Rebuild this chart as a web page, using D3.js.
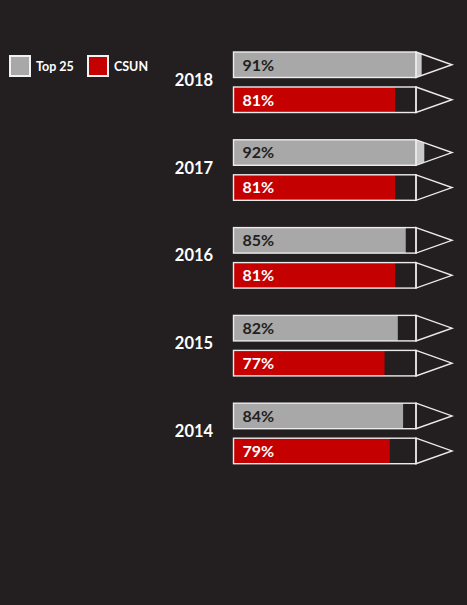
<!DOCTYPE html>
<html>
<head>
<meta charset="utf-8">
<script src="https://cdn.jsdelivr.net/npm/d3@7"></script>
<style>
  html, body { margin: 0; padding: 0; background: #231f20; }
  svg { display: block; }
</style>
</head>
<body>
<div id="chart"></div>
<script>
// data
var years = ['2018', '2017', '2016', '2015', '2014'];
var top25 = [91, 92, 85, 82, 84];
var csun = [81, 81, 81, 77, 79];
var seriesNames = ['Top 25', 'CSUN'];

var W = 467, H = 605;
var bg = '#231f20', grey = '#a8a8a8', greyLight = '#c9c9c9', red = '#c40000';
var font = 'Lato, "Open Sans", sans-serif';

var svg = d3.select('#chart').append('svg')
    .attr('width', W).attr('height', H);

svg.append('rect').attr('width', W).attr('height', H).attr('fill', bg);

// pencil geometry
var barX = 233.5, barW = 182.5, tipLen = 36, barH = 25.5, pairGap = 35;

var y = d3.scaleBand().domain(years).range([52, 491]).paddingInner(0);
// fill length, hand-drawn original is not zero based
var x = d3.scaleLinear().domain([20, 100]).range([0, 212]);

var rows = [];
years.forEach(function (yr, i) {
    rows.push({ year: yr, s: 0, v: top25[i] });
    rows.push({ year: yr, s: 1, v: csun[i] });
});

var defs = svg.append('defs');

var g = svg.selectAll('.pencil')
    .data(rows)
    .enter().append('g')
    .attr('class', 'pencil')
    .attr('transform', d => 'translate(' + barX + ',' + (y(d.year) + d.s * pairGap) + ')');

function tipPath() {
    return 'M' + barW + ',0 L' + (barW + tipLen) + ',' + barH / 2 + ' L' + barW + ',' + barH + 'Z';
}

g.each(function (d, i) {
    defs.append('clipPath').attr('id', 'tip' + i)
        .append('path').attr('d', tipPath());
});

// main fill
g.append('rect')
    .attr('width', d => Math.min(x(d.v), barW))
    .attr('height', barH)
    .attr('fill', d => d.s ? red : grey);

// part that runs into the tip
g.filter(d => x(d.v) > barW)
    .append('rect')
    .attr('clip-path', d => 'url(#tip' + rows.indexOf(d) + ')')
    .attr('x', barW)
    .attr('width', d => x(d.v) - barW)
    .attr('height', barH)
    .attr('fill', d => d.s ? red : greyLight);

g.append('rect')
    .attr('width', barW).attr('height', barH)
    .attr('fill', 'none').attr('stroke', '#ececec').attr('stroke-width', 1.4);

g.append('path')
    .attr('d', tipPath())
    .attr('fill', 'none').attr('stroke', '#ececec').attr('stroke-width', 1.4)
    .attr('stroke-linejoin', 'miter');

g.append('text')
    .attr('x', 9)
    .attr('y', barH / 2)
    .attr('dy', '0.36em')
    .attr('font-family', font).attr('font-weight', 700).attr('font-size', 16)
    .attr('fill', d => d.s ? '#ffffff' : bg)
    .text(d => d.v + '%');

// year labels
svg.selectAll('.year')
    .data(years)
    .enter().append('text')
    .attr('class', 'year')
    .attr('x', 194)
    .attr('y', d => y(d) + (barH + pairGap) / 2 + 3.5)
    .attr('text-anchor', 'middle')
    .attr('font-family', font).attr('font-weight', 700).attr('font-size', 16.5)
    .attr('fill', '#ffffff')
    .text(d => d);

// legend
var leg = svg.selectAll('.leg')
    .data(seriesNames)
    .enter().append('g')
    .attr('class', 'leg')
    .attr('transform', (d, i) => 'translate(' + (10 + i * 78) + ',56)');

leg.append('rect')
    .attr('width', 20).attr('height', 20)
    .attr('fill', (d, i) => i ? red : grey)
    .attr('stroke', '#f2f2f2').attr('stroke-width', 2);

leg.append('text')
    .attr('x', 26).attr('y', 10).attr('dy', '0.36em')
    .attr('font-family', font).attr('font-weight', 700).attr('font-size', 12.5)
    .attr('fill', '#ffffff')
    .text(d => d);
</script>
</body>
</html>
